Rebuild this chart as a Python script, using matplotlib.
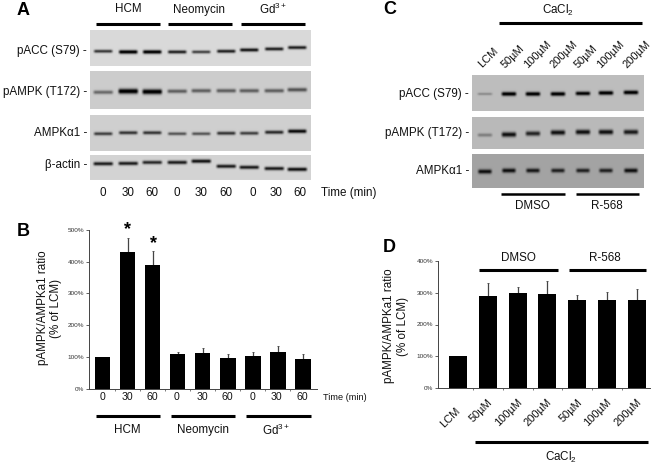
import matplotlib
matplotlib.use('Agg')
import matplotlib.pyplot as plt
import numpy as np

plt.rcParams['font.family'] = ['Liberation Sans', 'DejaVu Sans']
plt.rcParams['mathtext.default'] = 'regular'

W, H = 655, 466

# chart B
b_labels = ['0', '30', '60', '0', '30', '60', '0', '30', '60']
b_values = [100, 430, 390, 108, 112, 96, 102, 115, 92]
b_errors = [1, 45, 43, 9, 16, 12, 14, 18, 18]
b_ticks = [0, 100, 200, 300, 400, 500]

# chart D
d_labels = ['LCM', '50\u00b5M', '100\u00b5M', '200\u00b5M', '50\u00b5M', '100\u00b5M', '200\u00b5M']
d_values = [100, 290, 300, 296, 276, 278, 278]
d_errors = [1, 40, 17, 39, 18, 25, 32]
d_ticks = [0, 100, 200, 300, 400]

# blot A: band strength per lane, 0..1
a_pacc = [0.70, 1.00, 1.00, 0.80, 0.65, 0.80, 0.85, 0.80, 0.80]
a_pampk = [0.45, 1.00, 1.00, 0.50, 0.50, 0.50, 0.50, 0.50, 0.55]
a_ampk = [0.65, 0.70, 0.70, 0.55, 0.55, 0.70, 0.65, 0.75, 0.90]
a_actin = [0.80, 0.80, 0.75, 0.80, 0.85, 0.80, 0.80, 0.80, 0.85]

# blot C
c_pacc = [0.25, 1.00, 1.00, 1.00, 0.95, 1.00, 1.00]
c_pampk = [0.30, 0.85, 0.75, 0.85, 0.85, 0.85, 0.80]
c_ampk = [0.85, 0.85, 0.80, 0.75, 0.75, 0.75, 0.85]

a_lanes = [103, 128, 152, 177, 201, 226, 249, 274, 297]
c_lanes = [485, 509, 533, 558, 583, 606, 631]

fig = plt.figure(figsize=(W / 100, H / 100), dpi=100)

# whole figure in pixel coordinates, for text, rules and blots
bg = fig.add_axes([0, 0, 1, 1])
bg.set_xlim(0, W)
bg.set_ylim(H, 0)
bg.axis('off')


def blot(left, top, right, bottom, lanes, strength, rows, shade, half=10.5, thick=1.5):
    xs = np.arange(left, right, 0.5)
    ys = np.arange(top, bottom, 0.5)
    img = np.full((len(ys), len(xs)), shade)
    for cx, s, cy in zip(lanes, strength, rows):
        across = np.clip((half - np.abs(xs - cx)) / 3.0, 0, 1)
        down = np.exp(-((ys - cy) / (thick * (0.7 + 0.6 * s))) ** 2)
        img -= s * np.outer(down, across) * shade * 1.1
    bg.imshow(np.clip(img, 0, 1), cmap='gray', vmin=0, vmax=1, aspect='auto',
              extent=(left, right, bottom, top), interpolation='bilinear', zorder=1)


def rule(x0, x1, y, lw=2.2):
    bg.plot([x0, x1], [y, y], color='black', lw=lw, solid_capstyle='butt')


def label(x, y, s, size=8.4, ha='center', **kw):
    bg.text(x, y, s, fontsize=size, ha=ha, va='center', color='#111111', **kw)


def bars(left, top, right, bottom, x0, step, width, values, errors, ticks, ymax):
    ax = fig.add_axes([left / W, 1 - bottom / H, (right - left) / W, (bottom - top) / H])
    ax.patch.set_alpha(0)
    pos = np.arange(len(values))
    ax.bar(pos, values, width=width / step, color='black', zorder=2)
    ax.errorbar(pos, values, yerr=[np.zeros(len(errors)), errors], fmt='none',
                ecolor='#444444', elinewidth=0.9, capsize=0.6, capthick=0.6, zorder=1)
    ax.set_xlim((left - x0) / step, (right - x0) / step)
    ax.set_ylim(0, ymax)
    ax.set_yticks(ticks)
    ax.set_yticklabels([f'{t}%' for t in ticks], fontsize=4.6, color='#333333')
    ax.set_xticks(pos[:-1] + 0.5)
    ax.set_xticklabels([])
    ax.tick_params(axis='y', length=2.5, width=0.6, pad=1, color='#444444')
    ax.tick_params(axis='x', length=1.2, width=0.5, color='#444444')
    for side in ['top', 'right']:
        ax.spines[side].set_visible(False)
    for side in ['left', 'bottom']:
        ax.spines[side].set_linewidth(0.7)
        ax.spines[side].set_color('#444444')
    return ax


# panel A
blot(90, 30, 311, 65.7, a_lanes, a_pacc,
     [51, 51.7, 51.7, 51.7, 51.7, 51, 49.7, 48.7, 47.3], 0.85, thick=1.4)
blot(90, 71, 311, 109, a_lanes, a_pampk,
     [92, 91, 91.5, 91, 90.5, 90.5, 90.5, 90.5, 89.5], 0.80, half=11, thick=1.9)
blot(90, 115, 311, 150.7, a_lanes, a_ampk,
     [133.5, 132.5, 132.5, 133.5, 133.5, 133, 133, 132, 131], 0.81, half=10.5, thick=1.5)
blot(90, 155.7, 311, 180, a_lanes, a_actin,
     [164, 163.7, 162.7, 162.7, 161.5, 166.5, 167.5, 168.7, 169.5], 0.83, half=11, thick=1.5)

bg.text(17, 10.5, 'A', fontsize=13, fontweight='bold', va='center', ha='left')
label(128, 9.5, 'HCM')
label(199, 9.5, 'Neomycin')
label(273, 9, 'Gd$^{3+}$')
rule(95.5, 160, 23.5)
rule(168, 232, 23.5)
rule(240.5, 305, 23.5)
for y, s in [(51, 'pACC (S79) -'), (91.5, 'pAMPK (T172) -'),
             (133, 'AMPK\u03b11 -'), (165, '\u03b2-actin -')]:
    label(87, y, s, ha='right')
for x, s in zip([103, 128, 152, 177, 201, 226, 253, 276, 300], b_labels):
    label(x, 193, s)
label(321, 193, 'Time (min)', ha='left')

# panel B
bars(89, 230, 317, 388.7, 102.7, 25.03, 15.3, b_values, b_errors, b_ticks, 500)
bg.text(17, 232, 'B', fontsize=13, fontweight='bold', va='center', ha='left')
bg.text(127.5, 230, '*', fontsize=13, fontweight='bold', ha='center', va='center')
bg.text(153, 244, '*', fontsize=13, fontweight='bold', ha='center', va='center')
bg.text(43, 308, 'pAMPK/AMPKa1 ratio', fontsize=8.4, rotation=90, ha='center', va='center', color='#111111')
bg.text(56, 308, '(% of LCM)', fontsize=8.4, rotation=90, ha='center', va='center', color='#111111')
for x, s in zip([103, 127, 152, 177, 202, 227, 253, 276, 302], b_labels):
    label(x, 397.5, s, size=7.6)
label(323, 397.5, 'Time (min)', size=6.6, ha='left')
rule(96, 160, 415.5)
rule(170.5, 235, 415.5)
rule(246, 310.5, 415.5)
label(127, 430, 'HCM')
label(203, 430, 'Neomycin')
label(276, 430, 'Gd$^{3+}$')

# panel C
blot(472.3, 75.3, 644, 111, c_lanes, c_pacc,
     [94, 94, 94, 94, 93.5, 93, 92.5], 0.74, half=8.5, thick=1.5)
blot(472.3, 116.7, 644, 148.7, c_lanes, c_pampk,
     [134.5, 134, 133, 132, 131.5, 131.5, 131.5], 0.73, half=8.5, thick=2.0)
blot(472.3, 154.7, 644, 188.3, c_lanes, c_ampk,
     [172, 171, 171, 171, 171, 171, 171], 0.64, half=8, thick=1.8)

bg.text(383, 10, 'C', fontsize=13, fontweight='bold', va='center', ha='left')
label(558, 10, 'CaCl$_2$')
rule(499, 642, 22.5)
for x, s in zip([480, 503, 526, 552, 576, 599, 625], d_labels):
    bg.text(x, 66, s, fontsize=8, rotation=45, ha='left', va='center', color='#111111',
            rotation_mode='anchor')
for y, s in [(94.5, 'pACC (S79) -'), (133, 'pAMPK (T172) -'), (171, 'AMPK\u03b11 -')]:
    label(469, y, s, ha='right')
rule(501, 564.5, 194, lw=1.8)
rule(575.5, 639, 194, lw=1.8)
label(532, 206, 'DMSO')
label(607, 206, 'R-568')

# panel D
bars(438.3, 260.7, 650, 388.3, 458.3, 29.7, 18, d_values, d_errors, d_ticks, 400)
bg.text(383, 248, 'D', fontsize=13, fontweight='bold', va='center', ha='left')
bg.text(389, 326, 'pAMPK/AMPKa1 ratio', fontsize=8.4, rotation=90, ha='center', va='center', color='#111111')
bg.text(403, 326, '(% of LCM)', fontsize=8.4, rotation=90, ha='center', va='center', color='#111111')
label(518, 258, 'DMSO')
label(605, 258, 'R-568')
rule(479, 558, 269.5)
rule(569, 646, 269.5)
for x, y, s in zip([459, 491, 521, 550, 581, 610, 640], [409, 401, 400, 400, 401, 400, 400], d_labels):
    bg.text(x, y, s, fontsize=8, rotation=45, ha='right', va='center', color='#111111',
            rotation_mode='anchor')
rule(475, 648, 442)
label(561, 457, 'CaCl$_2$')

fig.savefig('out.png', dpi=100)
